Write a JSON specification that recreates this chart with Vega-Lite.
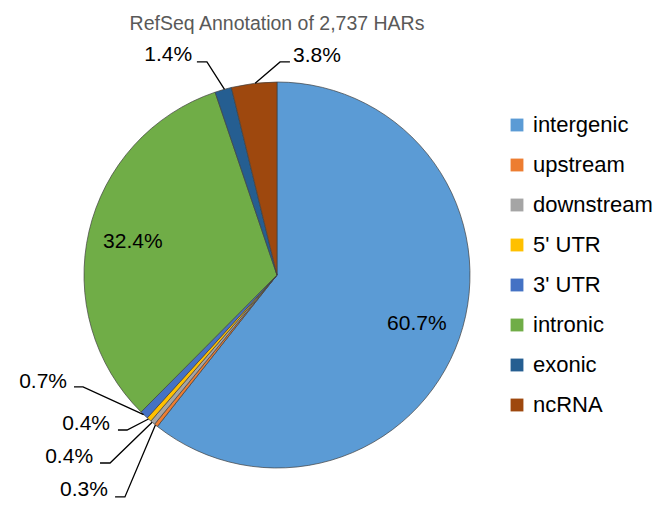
{
  "$schema": "https://vega.github.io/schema/vega-lite/v6.json",
  "width": 554,
  "height": 462,
  "autosize": {"type": "none"},
  "padding": {"left": 0, "top": 44, "right": 100, "bottom": 0},
  "background": "white",
  "title": {"text": "RefSeq Annotation of 2,737 HARs", "fontSize": 19.5, "font": "Liberation Sans", "fontWeight": "normal", "color": "#595959", "anchor": "middle", "offset": 9},
  "config": {"view": {"stroke": null}},
  "datasets": {
    "slices": [
      {"category": "intergenic", "pct": 60.7, "idx": 1, "inner": "60.7%"},
      {"category": "upstream", "pct": 0.3, "idx": 2, "inner": ""},
      {"category": "downstream", "pct": 0.4, "idx": 3, "inner": ""},
      {"category": "5' UTR", "pct": 0.4, "idx": 4, "inner": ""},
      {"category": "3' UTR", "pct": 0.7, "idx": 5, "inner": ""},
      {"category": "intronic", "pct": 32.4, "idx": 6, "inner": "32.4%"},
      {"category": "exonic", "pct": 1.4, "idx": 7, "inner": ""},
      {"category": "ncRNA", "pct": 3.8, "idx": 8, "inner": ""}
    ],
    "leaders": [
      {"seg": "3' UTR", "ord": 1, "x": -0.691, "y": -0.723},
      {"seg": "3' UTR", "ord": 2, "x": -1.005, "y": -0.58},
      {"seg": "3' UTR", "ord": 3, "x": -1.052, "y": -0.58},
      {"seg": "5' UTR", "ord": 1, "x": -0.666, "y": -0.746},
      {"seg": "5' UTR", "ord": 2, "x": -0.777, "y": -0.803},
      {"seg": "5' UTR", "ord": 3, "x": -0.824, "y": -0.803},
      {"seg": "downstream", "ord": 1, "x": -0.647, "y": -0.763},
      {"seg": "downstream", "ord": 2, "x": -0.865, "y": -0.974},
      {"seg": "downstream", "ord": 3, "x": -0.917, "y": -0.974},
      {"seg": "upstream", "ord": 1, "x": -0.63, "y": -0.777},
      {"seg": "upstream", "ord": 2, "x": -0.788, "y": -1.15},
      {"seg": "upstream", "ord": 3, "x": -0.839, "y": -1.15},
      {"seg": "exonic", "ord": 1, "x": -0.272, "y": 0.962},
      {"seg": "exonic", "ord": 2, "x": -0.363, "y": 1.104},
      {"seg": "exonic", "ord": 3, "x": -0.415, "y": 1.104},
      {"seg": "ncRNA", "ord": 1, "x": -0.113, "y": 0.994},
      {"seg": "ncRNA", "ord": 2, "x": 0.016, "y": 1.104},
      {"seg": "ncRNA", "ord": 3, "x": 0.067, "y": 1.104}
    ],
    "callouts": [
      {"label": "0.7%", "x": -1.088, "y": -0.554, "side": "right"},
      {"label": "0.4%", "x": -0.865, "y": -0.772, "side": "right"},
      {"label": "0.4%", "x": -0.953, "y": -0.943, "side": "right"},
      {"label": "0.3%", "x": -0.876, "y": -1.114, "side": "right"},
      {"label": "1.4%", "x": -0.44, "y": 1.14, "side": "right"},
      {"label": "3.8%", "x": 0.083, "y": 1.135, "side": "left"}
    ]
  },
  "layer": [
    {
      "data": {"name": "slices"},
      "mark": {"type": "arc", "outerRadius": 193, "stroke": "#404040", "strokeWidth": 0.7},
      "encoding": {
        "theta": {"field": "pct", "type": "quantitative", "stack": true},
        "order": {"field": "idx", "type": "quantitative"},
        "color": {
          "field": "category",
          "type": "nominal",
          "sort": ["intergenic", "upstream", "downstream", "5' UTR", "3' UTR", "intronic", "exonic", "ncRNA"],
          "scale": {
            "domain": ["intergenic", "upstream", "downstream", "5' UTR", "3' UTR", "intronic", "exonic", "ncRNA"],
            "range": ["#5B9BD5", "#ED7D31", "#A5A5A5", "#FFC000", "#4472C4", "#70AD47", "#255E91", "#9E480E"]
          },
          "legend": {
            "orient": "none", "legendX": 506, "legendY": 70, "title": null,
            "symbolType": "square", "symbolSize": 165, "symbolStrokeWidth": 0,
            "labelFontSize": 22, "labelFont": "Liberation Sans", "labelColor": "#000000",
            "rowPadding": 18, "labelOffset": 5
          }
        }
      }
    },
    {
      "data": {"name": "slices"},
      "mark": {"type": "text", "radius": 148, "fontSize": 21, "font": "Liberation Sans", "color": "#000000", "align": "center", "baseline": "middle"},
      "encoding": {
        "theta": {"field": "pct", "type": "quantitative", "stack": true},
        "order": {"field": "idx", "type": "quantitative"},
        "text": {"field": "inner", "type": "nominal"}
      }
    },
    {
      "data": {"name": "leaders"},
      "mark": {"type": "line", "color": "#000000", "strokeWidth": 1.3},
      "encoding": {
        "x": {"field": "x", "type": "quantitative", "scale": {"domain": [-1.4352, 1.4352], "nice": false, "zero": false}, "axis": null},
        "y": {"field": "y", "type": "quantitative", "scale": {"domain": [-1.1969, 1.1969], "nice": false, "zero": false}, "axis": null},
        "detail": {"field": "seg", "type": "nominal"},
        "order": {"field": "ord", "type": "quantitative"}
      }
    },
    {
      "data": {"name": "callouts"},
      "transform": [{"filter": "datum.side === 'right'"}],
      "mark": {"type": "text", "align": "right", "baseline": "middle", "fontSize": 21, "font": "Liberation Sans", "color": "#000000"},
      "encoding": {
        "x": {"field": "x", "type": "quantitative", "axis": null},
        "y": {"field": "y", "type": "quantitative", "axis": null},
        "text": {"field": "label", "type": "nominal"}
      }
    },
    {
      "data": {"name": "callouts"},
      "transform": [{"filter": "datum.side === 'left'"}],
      "mark": {"type": "text", "align": "left", "baseline": "middle", "fontSize": 21, "font": "Liberation Sans", "color": "#000000"},
      "encoding": {
        "x": {"field": "x", "type": "quantitative", "axis": null},
        "y": {"field": "y", "type": "quantitative", "axis": null},
        "text": {"field": "label", "type": "nominal"}
      }
    }
  ]
}
